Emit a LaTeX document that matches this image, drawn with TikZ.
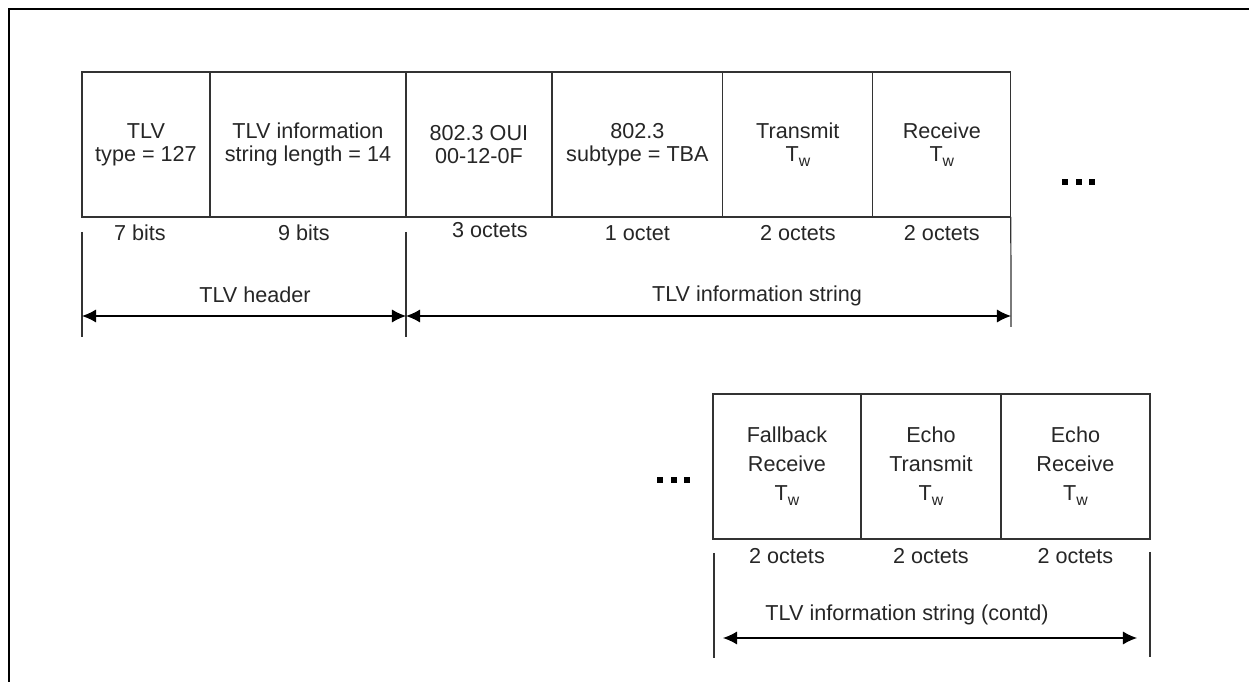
\documentclass[tikz,border=0pt]{standalone}
\usepackage{fontspec}
\setmainfont{Liberation Sans}
\usetikzlibrary{positioning,arrows.meta}
\newcommand{\tw}{T\raisebox{-0.45ex}{\small w}}

\begin{document}
\begin{tikzpicture}[x=0.02cm, y=-0.02cm, node distance=0pt,
    field/.style={rectangle, draw=black!80, line width=0.7pt, minimum height=2.9cm,
      outer sep=0pt, inner sep=0pt, align=center, text=black!85,
      font=\fontsize{12.3}{13}\selectfont},
    tallfield/.style={field, font=\fontsize{12.3}{16.5}\selectfont},
    size/.style={font=\fontsize{12.3}{13}\selectfont, text=black!85, inner sep=0pt},
    tick/.style={line width=0.7pt, draw=black!80},
    dim/.style={{Latex[length=8pt,width=7.5pt]}-{Latex[length=8pt,width=7.5pt]}, line width=0.7pt}
    ]
\useasboundingbox (0,0) rectangle (1249,682);
\draw[line width=1.2pt] (9,682) -- (9,9) -- (1249,9);

% first row of fields
\node[field, minimum width=2.56cm, anchor=north west] (ttype) at (82,72) {TLV\\type = 127};
\node[field, minimum width=3.92cm, right=of ttype] (tlen) {TLV information\\string length = 14};
\node[field, minimum width=2.92cm, right=of tlen] (oui) {802.3 OUI\\00-12-0F};
\node[field, minimum width=3.42cm, right=of oui] (subtype) {802.3\\subtype = TBA};
\node[field, minimum width=3.00cm, right=of subtype] (txtw) {Transmit\\\tw};
\node[field, minimum width=2.76cm, right=of txtw] (rxtw) {Receive\\\tw};

\node[size, below=4.5pt of ttype, xshift=-0.12cm] (ttypesz) {7 bits};
\node[size, below=4.5pt of tlen, xshift=-0.08cm] (tlensz) {9 bits};
\node[size, below=3pt of oui, xshift=0.22cm] (ouisz) {3 octets};
\node[size, below=4.5pt of subtype] (subtypesz) {1 octet};
\node[size, below=4.5pt of txtw] (txtwsz) {2 octets};
\node[size, below=4.5pt of rxtw] (rxtwsz) {2 octets};

\foreach \i in {0,1,2}
  \fill (1062+\i*13.5,179) rectangle ++(6,6);

% header / information string
\coordinate (hdrL) at (82,316);
\coordinate (hdrR) at (406,316);
\coordinate (infR) at (1011,316);
\draw[tick] (82,232) -- (82,337);
\draw[tick] (406,232) -- (406,337);
\draw[tick] (rxtw.south east) -- (1011,327);
\draw[dim] (hdrL) -- (hdrR);
\draw[dim] (hdrR) -- (infR);
\node[size] (hdrlbl) at (255,295) {TLV header};
\node[size] (inflbl) at (757,296) {TLV information string};

% second row of fields
\node[tallfield, minimum width=2.96cm, anchor=north west] (fbrx) at (713,394) {Fallback\\Receive\\\tw};
\node[tallfield, minimum width=2.80cm, right=of fbrx] (echotx) {Echo\\Transmit\\\tw};
\node[tallfield, minimum width=2.98cm, right=of echotx] (echorx) {Echo\\Receive\\\tw};

\node[size, below=5pt of fbrx] (fbrxsz) {2 octets};
\node[size, below=5pt of echotx] (echotxsz) {2 octets};
\node[size, below=5pt of echorx] (echorxsz) {2 octets};

\foreach \i in {0,1,2}
  \fill (657+\i*13.5,477) rectangle ++(6,6);

\coordinate (contL) at (723,638);
\coordinate (contR) at (1137,638);
\draw[tick] (714,553) -- (714,658);
\draw[tick] (1150,552) -- (1150,657);
\draw[dim] (contL) -- (contR);
\node[size] (contlbl) at (907,615) {TLV information string (contd)};
\end{tikzpicture}
\end{document}
